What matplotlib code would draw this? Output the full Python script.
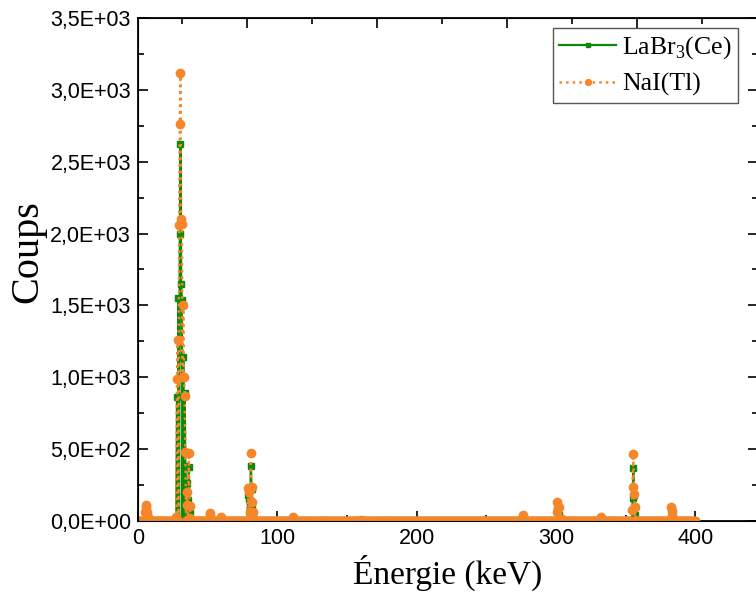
import numpy as np
import pandas as pd
import matplotlib
matplotlib.use("Agg")
import matplotlib.pyplot as plt
from matplotlib.ticker import MultipleLocator, FuncFormatter, NullFormatter

plt.rcParams["mathtext.fontset"] = "custom"
plt.rcParams["mathtext.rm"] = "Liberation Serif"

# energy grid of the spectra (keV), baseline counts are ~0 outside the peaks
grid_e = np.arange(0, 400.5, 0.5)

# NaI(Tl) peak points (keV, counts)
nai_e = [5.0, 5.5, 6.0, 6.5, 7.0,
         27.5, 28.0, 28.5, 29.5, 30.0, 30.5, 31.0, 31.5, 32.0, 32.5, 33.0, 33.5, 34.0, 35.0, 35.5, 36.5, 37.0, 37.5,
         51.5, 52.0, 59.5,
         79.0, 80.0, 80.5, 81.0, 81.5, 82.0, 82.5,
         111.0, 160.0, 276.0,
         300.5, 301.0, 301.5, 302.0, 304.5, 332.0,
         354.5, 355.0, 355.5, 356.0, 356.5,
         382.5, 383.0, 383.5]
nai_c = [60, 110, 100, 60, 30,
         30, 990, 1260, 2060, 2760, 3120, 2100, 2070, 1000, 1500, 1000, 870, 480, 200, 110, 470, 105, 20,
         55, 40, 30,
         230, 200, 60, 470, 130, 240, 60,
         30, 10, 40,
         60, 130, 90, 100, 15, 30,
         80, 237, 466, 190, 100,
         100, 70, 40]

# LaBr3(Ce) peak points (keV, counts)
labr_e = [5.5, 6.0, 6.5,
          27.5, 28.0, 29.0, 30.0, 30.5, 31.0, 31.5, 32.5, 33.5, 34.0, 34.5, 35.5, 36.0, 36.5, 37.0, 37.5,
          51.5,
          79.0, 80.0, 80.5, 81.0, 81.5, 82.0, 82.5,
          276.0,
          301.0, 301.5, 302.0,
          355.0, 355.5, 356.0, 356.5, 357.0,
          383.0, 383.5]
labr_c = [40, 70, 30,
          20, 865, 1550, 2000, 2620, 1650, 1540, 1140, 890, 380, 250, 265, 145, 375, 60, 10,
          50,
          180, 150, 60, 383, 220, 90, 40,
          20,
          80, 60, 40,
          160, 370, 180, 100, 40,
          75, 50]


def spectrum(pe, pc):
    s = pd.Series(0.0, index=grid_e)
    s.loc[pe] = pc
    return s.index.values, s.values


fig = plt.figure(figsize=(7.56, 6.07), dpi=100)
ax = fig.add_axes([138 / 756, 86 / 607, 620 / 756, 503 / 607])

x1, y1 = spectrum(labr_e, labr_c)
x2, y2 = spectrum(nai_e, nai_c)
ax.plot(x1, y1, "-", color="#0a8a0a", lw=1.6, marker="s", ms=4.5,
        mfc="#0a8a0a", mec="#0a8a0a", label=r"LaBr$_3$(Ce)", zorder=2)
ax.plot(x2, y2, ":", color="#f5862a", lw=1.8, marker="o", ms=6,
        mfc="#f5862a", mec="#f5862a", label="NaI(Tl)", zorder=3)

ax.set_xlim(0, 445)
ax.set_ylim(0, 3500)
ax.xaxis.set_major_locator(MultipleLocator(100))
ax.xaxis.set_minor_locator(MultipleLocator(50))
ax.yaxis.set_major_locator(MultipleLocator(500))
ax.yaxis.set_minor_locator(MultipleLocator(250))
ax.yaxis.set_major_formatter(FuncFormatter(lambda v, p: f"{v:.1E}".replace(".", ",")))
ax.tick_params(which="both", direction="in", right=True, width=1.2)
ax.tick_params(which="major", length=7, labelsize=15.5, pad=5)
ax.tick_params(which="minor", length=4)
for lab in ax.get_xticklabels() + ax.get_yticklabels():
    lab.set_family("Liberation Sans")
for sp in ax.spines.values():
    sp.set_linewidth(1.3)

# top frame axis has its own (unlabelled) tick spacing
top = ax.twiny()
top.set_xlim(ax.get_xlim())
top.xaxis.set_major_locator(MultipleLocator(93.3, offset=358.1 % 93.3))
top.xaxis.set_minor_locator(MultipleLocator(46.65, offset=358.1 % 46.65))
top.xaxis.set_major_formatter(NullFormatter())
top.tick_params(which="both", direction="in", width=1.2)
top.tick_params(which="major", length=7)
top.tick_params(which="minor", length=4)

ax.set_xlabel("Énergie (keV)", family="Liberation Serif", fontsize=24, labelpad=4)
ax.set_ylabel("Coups", family="Liberation Serif", fontsize=29)
ax.yaxis.set_label_coords(-0.148, 0.535)

leg = ax.legend(loc="upper left", bbox_to_anchor=(553 / 756, 1 - 28 / 607),
                bbox_transform=fig.transFigure, borderaxespad=0, fancybox=False,
                framealpha=1, edgecolor="#555555", prop={"family": "Liberation Serif", "size": 18.5},
                handlelength=2.2, handletextpad=0.25, borderpad=0.25, labelspacing=0.45,
                markerscale=0.7)
leg.get_frame().set_linewidth(1.0)
leg.set_zorder(5)

fig.savefig("out.png", dpi=100)
